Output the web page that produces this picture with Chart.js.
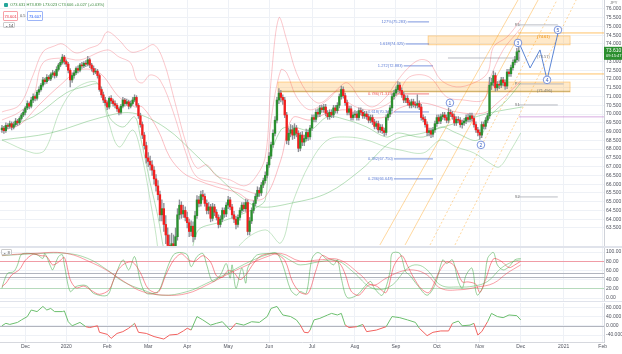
<!DOCTYPE html>
<html>
<head>
<meta charset="utf-8">
<script src="https://cdn.jsdelivr.net/npm/chart.js@4.4.1/dist/chart.umd.min.js"></script>
<style>
  body { margin: 0; width: 622px; height: 354px; overflow: hidden; background: #fff; position: relative; font-family: "Liberation Sans", Arial, sans-serif; }
  canvas { position: absolute; left: 0; }
  .sep { position: absolute; left: 0; width: 622px; background: #e0e3eb; }
  .t { position: absolute; white-space: nowrap; line-height: 1; }
  .box { position: absolute; border: 0.6px solid; border-radius: 1px; font-size: 4px; line-height: 9px; text-align: center; box-sizing: border-box; }
</style>
</head>
<body>
<canvas id="main" width="622" height="246" style="top:0"></canvas>
<div class="sep" style="top:246px;height:2px"></div>
<canvas id="stoch" width="622" height="53" style="top:248px"></canvas>
<div class="sep" style="top:301px;height:1px"></div>
<canvas id="osc" width="622" height="52" style="top:302px"></canvas>

<div class="t" style="left:4px;top:3px;width:4px;height:4px;background:#26a69a;border-radius:1px"></div>
<div class="t" style="left:10px;top:3px;font-size:4px;color:#3d8b40">O73.631 H73.839 L73.023 C73.606 +0.027 (+0.03%)</div>
<div class="box" style="left:3px;top:11px;width:15px;height:10px;color:#f23645;border-color:#f7a1a8">73.601</div>
<div class="t" style="left:20px;top:14px;font-size:4px;color:#555">0.5</div>
<div class="box" style="left:27px;top:11px;width:16px;height:10px;color:#2962ff;border-color:#9db5f7">73.607</div>
<div class="box" style="left:3px;top:22px;width:12px;height:6px;line-height:6px;color:#333;border-color:#ccc">⌄ 14</div>
<div class="box" style="left:1px;top:249px;width:11px;height:6px;line-height:6px;color:#333;border-color:#ccc">⌄ 3</div>

<script>
// ---- price data (daily candles, NZD/JPY style) ----
const firstOpen = 69.10;
const closes = [
  69.20, 69.05, 69.35, 69.30, 69.45, 69.25, 69.40, 69.60, 69.50, 69.75,
  69.95, 70.10, 70.35, 70.60, 70.45, 70.80, 71.00, 70.90, 71.25, 71.40,
  71.65, 71.95, 71.85, 72.10, 72.00, 72.25, 72.35, 72.20, 72.55, 72.80,
  72.95, 73.25, 73.00, 72.85, 72.50, 71.95, 72.20, 72.35, 72.60, 72.50,
  72.80, 72.75, 72.90, 72.85, 73.10, 72.80, 72.60, 72.40, 72.45, 72.20,
  71.40, 71.10, 70.80, 70.65, 70.40, 70.90, 70.75, 70.60, 70.50, 70.30,
  70.10, 70.45, 70.80, 70.60, 70.70, 70.45, 70.60, 70.80, 70.95, 70.50,
  69.90, 69.40, 68.80, 68.20, 67.50, 67.30, 67.10, 66.80, 66.30, 65.90,
  65.40, 64.25, 64.60, 63.70, 63.10, 62.50, 61.95, 62.60, 61.60, 63.00,
  64.25, 64.80, 64.30, 64.50, 64.10, 63.80, 63.30, 63.60, 63.00, 64.20,
  65.10, 64.90, 65.40, 65.30, 64.90, 64.50, 64.70, 64.05, 64.70, 64.40,
  64.10, 63.70, 64.00, 64.50, 64.30, 64.80, 65.10, 64.70, 64.25, 64.00,
  63.70, 64.10, 64.50, 64.80, 64.60, 64.95, 63.30, 63.90, 64.50, 64.90,
  65.30, 65.65, 65.50, 65.95, 66.20, 66.50, 67.10, 67.60, 68.25, 68.90,
  69.65, 70.80, 71.20, 70.95, 70.80, 69.95, 68.50, 68.90, 69.10, 68.80,
  69.20, 68.90, 68.05, 68.80, 68.40, 68.60, 68.95, 68.70, 69.20, 69.80,
  69.70, 70.10, 70.00, 70.35, 70.25, 70.40, 70.05, 69.85, 70.10, 69.95,
  70.35, 70.20, 70.50, 71.00, 71.40, 71.05, 70.65, 70.10, 70.30, 69.80,
  69.95, 70.00, 69.80, 70.20, 70.10, 69.90, 70.00, 69.85, 69.65, 69.80,
  69.55, 69.30, 69.45, 69.10, 69.25, 69.05, 68.95, 69.80, 70.00, 70.35,
  71.00, 71.20, 71.40, 71.65, 71.35, 71.10, 70.80, 70.90, 70.65, 70.50,
  70.70, 70.55, 70.50, 70.60, 70.40, 69.80, 69.70, 69.40, 68.95, 69.05,
  68.85, 69.10, 69.45, 69.80, 69.60, 69.85, 69.95, 69.80, 69.65, 70.10,
  70.00, 69.85, 69.50, 69.70, 69.65, 69.40, 69.50, 69.60, 69.80, 69.70,
  69.90, 69.75, 69.40, 69.10, 68.95, 68.80, 69.40, 69.30, 69.65, 69.90,
  71.65, 71.80, 72.20, 71.50, 71.70, 71.65, 71.95, 71.80, 71.60, 72.40,
  72.30, 72.65, 72.95, 73.10, 73.55, 73.61
];
const highs = [
  69.35, 69.30, 69.50, 69.45, 69.60, 69.55, 69.55, 69.75, 69.70, 69.85,
  70.05, 70.25, 70.45, 70.75, 70.70, 70.95, 71.15, 71.10, 71.35, 71.55,
  71.75, 72.10, 72.05, 72.25, 72.20, 72.35, 72.50, 72.45, 72.70, 72.90,
  73.10, 73.40, 73.35, 73.10, 72.95, 72.60, 72.35, 72.50, 72.70, 72.75,
  72.90, 72.95, 73.00, 73.05, 73.30, 73.20, 72.90, 72.75, 72.60, 72.55,
  72.30, 71.55, 71.25, 70.95, 70.75, 71.00, 71.05, 70.85, 70.75, 70.60,
  70.40, 70.55, 70.95, 70.90, 70.85, 70.80, 70.75, 70.95, 71.10, 71.05,
  70.60, 70.05, 69.55, 68.95, 68.40, 67.80, 67.60, 67.35, 67.00, 66.55,
  66.20, 65.60, 65.10, 64.90, 64.20, 63.50, 63.10, 63.20, 63.10, 63.50,
  64.60, 65.10, 65.00, 64.80, 64.70, 64.40, 64.00, 63.90, 63.85, 64.45,
  65.35, 65.30, 65.60, 65.65, 65.45, 65.10, 64.95, 64.85, 64.90, 64.85,
  64.55, 64.25, 64.20, 64.65, 64.65, 64.95, 65.30, 65.25, 64.85, 64.45,
  64.15, 64.25, 64.65, 64.95, 64.95, 65.15, 65.10, 64.10, 64.65, 65.05,
  65.45, 65.85, 65.80, 66.10, 66.35, 66.70, 67.25, 67.80, 68.40, 69.10,
  69.85, 70.95, 71.45, 71.35, 71.10, 70.95, 70.10, 69.20, 69.40, 69.35,
  69.45, 69.35, 69.05, 68.95, 69.00, 68.80, 69.15, 69.10, 69.35, 69.95,
  69.95, 70.25, 70.30, 70.50, 70.50, 70.55, 70.55, 70.20, 70.25, 70.25,
  70.50, 70.50, 70.65, 71.15, 71.60, 71.55, 71.20, 70.80, 70.45, 70.45,
  70.10, 70.20, 70.15, 70.35, 70.35, 70.25, 70.15, 70.15, 70.00, 69.95,
  69.95, 69.70, 69.60, 69.60, 69.40, 69.40, 69.20, 69.95, 70.15, 70.50,
  71.15, 71.35, 71.55, 71.85, 71.80, 71.50, 71.25, 71.05, 71.05, 70.80,
  70.85, 70.85, 70.70, 71.10, 70.75, 70.55, 69.95, 69.85, 69.55, 69.20,
  69.20, 69.25, 69.60, 69.95, 69.95, 70.00, 70.10, 70.10, 69.95, 70.35,
  70.25, 70.15, 70.00, 69.85, 69.85, 69.80, 69.65, 69.75, 69.95, 70.00,
  70.05, 70.05, 69.90, 69.55, 69.25, 69.10, 69.55, 69.55, 69.80, 70.05,
  72.10, 72.05, 72.45, 72.35, 71.85, 71.90, 72.10, 72.10, 71.95, 72.55,
  72.55, 72.80, 73.10, 73.30, 73.75, 73.84
];
const lows = [
  68.95, 68.90, 68.95, 69.15, 69.20, 69.10, 69.15, 69.30, 69.35, 69.40,
  69.65, 69.85, 69.95, 70.25, 70.30, 70.35, 70.65, 70.75, 70.80, 71.10,
  71.30, 71.55, 71.70, 71.75, 71.90, 71.90, 72.10, 72.05, 72.10, 72.45,
  72.70, 72.85, 72.85, 72.70, 72.35, 71.55, 71.80, 72.05, 72.25, 72.35,
  72.40, 72.60, 72.65, 72.70, 72.75, 72.65, 72.45, 72.25, 72.30, 72.05,
  71.30, 70.95, 70.65, 70.50, 70.25, 70.30, 70.60, 70.45, 70.35, 70.15,
  69.95, 70.00, 70.35, 70.45, 70.50, 70.30, 70.35, 70.50, 70.70, 70.40,
  69.75, 69.25, 68.60, 68.00, 67.20, 67.00, 66.80, 66.50, 66.00, 65.60,
  65.10, 63.90, 63.90, 63.30, 62.60, 61.80, 60.80, 61.40, 60.50, 61.20,
  62.80, 64.00, 64.05, 64.10, 63.90, 63.50, 63.00, 63.05, 62.70, 62.85,
  64.05, 64.70, 64.75, 65.10, 64.75, 64.30, 64.30, 63.85, 63.90, 64.20,
  63.95, 63.50, 63.55, 63.85, 64.10, 64.15, 64.60, 64.55, 64.05, 63.80,
  63.45, 63.55, 63.95, 64.35, 64.45, 64.45, 63.10, 63.10, 63.75, 64.35,
  64.75, 65.15, 65.30, 65.35, 65.80, 66.05, 66.35, 66.95, 67.45, 68.10,
  68.75, 69.50, 70.60, 70.70, 70.55, 69.80, 68.30, 68.25, 68.70, 68.55,
  68.60, 68.70, 67.85, 67.90, 68.20, 68.20, 68.45, 68.50, 68.55, 69.05,
  69.55, 69.55, 69.85, 69.85, 70.10, 70.10, 69.90, 69.70, 69.70, 69.80,
  69.80, 70.05, 70.05, 70.35, 70.85, 70.90, 70.50, 69.95, 69.95, 69.65,
  69.65, 69.80, 69.65, 69.65, 69.95, 69.75, 69.75, 69.70, 69.50, 69.50,
  69.40, 69.15, 69.15, 68.95, 68.95, 68.90, 68.75, 68.80, 69.65, 69.85,
  70.20, 70.85, 71.05, 71.25, 71.20, 70.95, 70.65, 70.65, 70.50, 70.35,
  70.35, 70.40, 70.35, 70.35, 70.25, 69.65, 69.55, 69.25, 68.75, 68.75,
  68.65, 68.70, 68.95, 69.30, 69.45, 69.45, 69.70, 69.65, 69.50, 69.50,
  69.85, 69.70, 69.35, 69.35, 69.50, 69.25, 69.20, 69.35, 69.45, 69.55,
  69.55, 69.60, 69.25, 68.95, 68.75, 68.55, 68.65, 69.15, 69.15, 69.50,
  69.75, 71.40, 71.60, 71.30, 71.35, 71.45, 71.50, 71.60, 71.40, 71.45,
  72.15, 72.15, 72.50, 72.80, 72.95, 73.02
];

// band overlays: [bar, price]
const upperOuter = [[0,70.12],[9,70.52],[16,72.23],[21,73.55],[27,73.89],[31,74.00],[38,73.49],[45,73.77],[50,74.00],[54,74.69],[60,74.23],[66,73.55],[72,73.66],[78,73.95],[83,72.98],[88,70.98],[95,68.12],[100,66.92],[105,67.10],[110,66.47],[117,66.24],[124,65.90],[129,66.24],[135,67.55],[138,71.95],[142,75.49],[146,74.23],[151,72.35],[158,70.98],[163,70.63],[170,71.21],[177,71.78],[184,70.81],[190,70.41],[197,70.98],[202,71.78],[208,72.60],[214,73.09],[219,72.98],[225,71.95],[233,71.55],[242,71.78],[249,72.35],[252,73.83],[259,74.40],[266,75.37]];
const upperInner = [[0,69.66],[9,70.12],[16,70.98],[21,72.92],[31,73.20],[40,73.09],[54,73.66],[60,73.26],[66,72.92],[69,71.95],[72,71.78],[76,72.23],[81,71.95],[88,70.06],[95,67.55],[100,66.41],[110,66.07],[117,65.84],[124,65.67],[131,65.50],[135,66.24],[138,69.66],[143,72.52],[146,72.35],[151,70.98],[158,70.24],[167,70.81],[173,71.38],[178,70.63],[187,70.24],[195,70.41],[202,70.98],[209,72.12],[219,72.12],[228,70.98],[236,70.81],[247,70.81],[250,71.95],[257,73.66],[264,74.63],[266,74.90]];
const basis = [[0,69.09],[9,69.38],[19,70.52],[30,71.66],[40,72.52],[50,72.35],[60,70.98],[68,70.41],[72,70.41],[80,69.09],[86,67.55],[93,66.64],[100,66.24],[110,65.84],[121,65.50],[127,65.10],[135,65.27],[143,67.38],[149,69.78],[158,69.66],[167,70.06],[177,70.24],[187,69.84],[197,69.84],[204,70.35],[216,70.63],[233,70.12],[247,70.06],[254,70.63],[264,71.66],[266,71.90]];
const lowerInner = [[0,69.26],[16,69.84],[33,71.21],[42,71.55],[50,71.66],[55,69.84],[62,69.26],[68,69.84],[71,68.69],[76,66.07],[80,64.13],[83,62.24],[88,59.50],[95,59.80],[100,63.27],[112,63.84],[122,64.24],[131,64.70],[135,65.10],[137,67.21],[143,69.09],[149,69.26],[158,69.09],[167,69.84],[177,69.66],[187,69.26],[197,68.69],[203,68.92],[216,68.69],[225,69.26],[233,68.92],[244,68.52],[250,69.84],[259,70.81],[266,71.78]];
const lowerOuter = [[0,68.52],[16,67.78],[22,67.95],[30,70.24],[38,71.49],[49,71.78],[54,69.84],[60,68.12],[67,69.09],[71,67.95],[76,65.10],[80,62.24],[84,57.00],[101,59.00],[122,62.53],[135,63.39],[143,62.64],[149,64.93],[158,67.21],[167,68.52],[177,68.69],[187,68.52],[197,68.12],[204,67.95],[216,67.78],[225,68.52],[233,68.12],[242,67.78],[250,67.21],[255,66.98],[261,67.95],[266,68.92]];
const slowMa = [[0,68.52],[25,68.92],[50,69.78],[67,70.06],[84,69.20],[100,67.60],[112,66.30],[122,65.30],[132,64.70],[149,64.93],[167,65.50],[184,66.81],[201,68.52],[216,68.92],[233,69.49],[250,70.06],[267,70.41]];

// stochastic pane: [bar, value]
const fastK = [[0,21],[1,36],[3,54],[6,57],[8,72],[10,95],[14,97],[18,94],[21,86],[22,97],[25,68],[26,61],[29,90],[31,94],[32,72],[35,14],[38,25],[42,28],[44,25],[47,10],[54,6],[57,36],[62,83],[65,61],[68,90],[71,36],[74,10],[80,14],[83,43],[85,68],[88,94],[91,99],[95,94],[97,68],[100,90],[103,97],[105,72],[108,36],[112,50],[115,75],[117,43],[118,72],[120,21],[123,65],[125,32],[126,65],[129,86],[131,94],[137,97],[141,97],[144,72],[148,18],[151,6],[153,14],[156,10],[159,86],[162,99],[166,86],[170,72],[172,83],[174,43],[177,1],[182,6],[186,25],[189,36],[191,21],[195,6],[199,57],[200,97],[204,97],[207,57],[209,50],[213,28],[218,6],[222,28],[226,83],[228,75],[231,83],[234,36],[236,21],[238,50],[241,65],[243,14],[244,6],[247,28],[249,86],[252,99],[254,72],[257,61],[260,68],[263,83],[266,86]];
const fastD = [[0,25],[2,32],[5,50],[9,62],[12,82],[16,95],[20,92],[23,90],[26,72],[29,78],[32,88],[35,40],[38,22],[42,26],[46,16],[50,8],[55,18],[59,58],[63,75],[67,78],[71,55],[75,20],[80,12],[84,50],[88,82],[92,96],[96,82],[99,80],[103,92],[107,78],[110,48],[113,45],[116,60],[119,55],[122,40],[125,50],[129,75],[133,92],[140,96],[145,82],[149,35],[153,12],[157,10],[161,60],[164,92],[168,85],[173,76],[176,52],[179,15],[183,6],[188,28],[192,26],[197,12],[201,70],[205,92],[208,70],[211,45],[215,20],[219,12],[224,55],[228,78],[232,70],[236,35],[239,35],[243,30],[245,12],[248,40],[252,85],[256,80],[260,66],[263,72],[266,80]];
const slowRed = [[0,93],[16,97],[33,97],[47,75],[55,57],[64,32],[72,14],[84,6],[95,10],[105,28],[115,50],[126,72],[136,90],[143,97],[153,80],[163,83],[173,83],[184,50],[190,28],[197,43],[204,57],[211,61],[218,50],[225,21],[235,18],[244,24],[252,32],[259,54],[266,72]];
const slowGreen = [[0,92],[16,96],[33,97],[44,86],[54,61],[62,36],[72,18],[82,6],[95,14],[105,32],[117,57],[127,79],[136,94],[141,97],[149,79],[153,72],[163,79],[172,81],[180,57],[190,21],[199,25],[208,65],[213,72],[218,61],[225,28],[234,24],[242,26],[249,36],[256,65],[262,79],[266,83]];
const stochLevels = [[80, 'rgba(242,54,69,0.45)'], [54, '#b2b5be'], [46, '#b2b5be'], [22, 'rgba(76,175,80,0.35)']];

// lower oscillator: [bar, value]
const osc = [[0,1],[2,12],[4,7],[8,16],[10,27],[13,42],[15,71],[18,64],[21,87],[23,71],[25,78],[27,64],[31,64],[32,67],[34,19],[36,1],[40,16],[43,-3],[45,-7],[49,1],[50,-28],[54,-37],[56,-55],[59,-33],[62,-25],[65,-10],[67,4],[68,12],[70,-28],[74,-33],[78,-47],[83,-58],[86,-40],[90,-37],[93,-22],[95,-10],[97,-18],[100,42],[103,27],[107,4],[110,12],[113,19],[117,-18],[120,12],[124,4],[128,19],[132,16],[136,42],[138,78],[141,87],[144,49],[148,42],[151,27],[153,4],[155,-28],[157,-30],[158,-18],[160,27],[163,34],[167,49],[169,56],[172,49],[174,56],[176,4],[178,-7],[182,-3],[185,7],[187,-25],[192,-18],[197,-3],[200,42],[204,37],[208,27],[212,16],[214,-10],[218,-43],[221,-28],[225,-22],[229,-22],[231,12],[234,22],[236,1],[240,4],[242,12],[244,-40],[246,-25],[249,19],[251,56],[254,42],[257,37],[260,49],[264,46],[266,27]];

// axes
const monthTicks = [12, 33, 54, 75, 95, 116, 137, 159, 181, 202, 223, 245, 266, 288, 308];
const monthLabels = ['Dec', '2020', 'Feb', 'Mar', 'Apr', 'May', 'Jun', 'Jul', 'Aug', 'Sep', 'Oct', 'Nov', 'Dec', '2021', 'Feb'];
const priceTicks = [76, 75.5, 75, 74.5, 74, 73.5, 73, 72.5, 72, 71.5, 71, 70.5, 70, 69.5, 69, 68.5, 68, 67.5, 67, 66.5, 66, 65.5, 65, 64.5, 64, 63.5];
const stochTicks = [100, 80, 60, 40, 20, 0];
const oscTicks = [80, 40, 0, -40];

// chart drawings: zones [fromBar, toBar, top, bottom]
const zones = [[218.5, 291.3, 74.46, 73.95], [141.5, 291.3, 71.83, 71.26]];
// horizontal lines [fromBar, toBar, price, color]
const hLines = [
  [264.6, 310, 74.63, 'rgba(255,152,0,0.75)'],
  [264.6, 310, 72.29, 'rgba(255,152,0,0.75)'],
  [141.5, 291.3, 71.30, 'rgba(150,130,40,0.7)'],
  [228.7, 265.6, 73.20, '#a8acb5'],
  [264.5, 285, 75.09, '#a8acb5'],
  [264.5, 288, 71.72, '#a8acb5'],
  [264.5, 285, 70.52, '#a8acb5'],
  [264.5, 285, 65.27, '#a8acb5'],
  [265, 310, 69.84, 'rgba(186,104,200,0.7)']
];
// fib levels [price, label, fromBar, toBar, color]
const fibs = [
  [75.26, '127%(75.283)', 208, 219, '#5b7bd5'],
  [74.00, '1.618(74.325)', 207, 219, '#5b7bd5'],
  [72.75, '1.272(72.883)', 206, 221, '#5b7bd5'],
  [71.15, '0.786(71.313)', 201, 219, '#f05a5a'],
  [70.12, '0.618(70.318)', 201, 219, '#5b7bd5'],
  [67.44, '0.382(67.750)', 201, 221, '#5b7bd5'],
  [66.30, '0.236(66.648)', 201, 221, '#5b7bd5']
];
// diagonal channel lines [[bar, price], [bar, price], dashed]
const diagonals = [
  [[193.8, 62.53], [264.6, 76.51], false],
  [[206.7, 62.53], [274.9, 76.51], false],
  [[219.5, 62.53], [284.6, 76.51], true],
  [[232.3, 62.53], [294.4, 76.51], true]
];
const wavePath = [[265.6, 73.95], [270.8, 72.63], [275.9, 73.66], [279.5, 71.95], [285.1, 74.63]];
const waveMarks = [['1', 229.7, 70.64], ['2', 245.6, 68.24], ['3', 264.6, 74.06], ['4', 279.5, 71.95], ['5', 285.1, 74.80]];
const notes = [
  ['R1', 263, 75.09, '#777'], ['P', 263, 71.72, '#777'], ['S1', 263, 70.52, '#777'], ['S2', 263, 65.27, '#777'],
  ['(74.61)', 274.4, 74.40, '#f08c00'], ['(73.57)', 274.4, 73.26, '#777'], ['(71.496)', 274.4, 71.32, '#777']
];

const xMin = -1, xMax = 308.7;
const gridColor = '#eef1f6';
const font = 'Liberation Sans, Arial, sans-serif';

// ---- build ----
const opens = closes.map((c, i) => i === 0 ? firstOpen : closes[i - 1]);
const candleColor = closes.map((c, i) => c >= opens[i] ? '#2b8f2f' : '#f21f1f');
const pts = a => a.map(([x, y]) => ({ x, y }));

function lineSet(data, color, width, tension) {
  return { type: 'line', data: pts(data), borderColor: color, borderWidth: width, pointRadius: 0, tension: tension, order: 2, fill: false };
}

function xAxis(showLabels) {
  return {
    type: 'linear', min: xMin, max: xMax, offset: false,
    afterBuildTicks: s => { s.ticks = monthTicks.map(v => ({ value: v })); },
    afterFit: s => { s.height = showLabels ? 12 : 0; s.paddingLeft = 0; s.paddingRight = 0; },
    ticks: { display: showLabels, autoSkip: false, maxRotation: 0, padding: 2, color: '#50535e', font: { size: 5, family: font }, callback: (v, i) => monthLabels[i] },
    grid: { color: gridColor, drawTicks: false, offset: false },
    border: { display: showLabels, color: '#d6d8de' }
  };
}

function yAxis(min, max, tickVals, digits) {
  return {
    position: 'right', min, max,
    afterBuildTicks: s => { s.ticks = tickVals.map(v => ({ value: v })); },
    afterFit: s => { s.width = 18; s.paddingTop = 0; s.paddingBottom = 0; },
    ticks: { autoSkip: false, padding: 2, color: '#50535e', font: { size: 5, family: font }, callback: v => v.toFixed(digits) },
    grid: { color: gridColor, drawTicks: false },
    border: { display: true, color: '#cfd2d9' }
  };
}

function levelLines(levels) {
  return {
    id: 'levels',
    beforeDatasetsDraw(chart) {
      const { ctx, chartArea: a, scales: { y } } = chart;
      ctx.save();
      levels.forEach(([v, c]) => {
        const py = Math.round(y.getPixelForValue(v)) + 0.5;
        ctx.strokeStyle = c; ctx.lineWidth = 1;
        ctx.beginPath(); ctx.moveTo(a.left, py); ctx.lineTo(a.right, py); ctx.stroke();
      });
      ctx.restore();
    }
  };
}

const drawings = {
  id: 'drawings',
  beforeDatasetsDraw(chart) {
    const { ctx, chartArea: a, scales: { x, y } } = chart;
    ctx.save();
    ctx.beginPath(); ctx.rect(a.left, a.top, a.width, a.height); ctx.clip();
    zones.forEach(([i0, i1, p0, p1]) => {
      const X0 = x.getPixelForValue(i0), X1 = x.getPixelForValue(i1);
      const Y0 = y.getPixelForValue(p0), Y1 = y.getPixelForValue(p1);
      ctx.fillStyle = 'rgba(255,183,77,0.3)';
      ctx.fillRect(X0, Y0, X1 - X0, Y1 - Y0);
      ctx.strokeStyle = 'rgba(255,152,0,0.5)'; ctx.lineWidth = 0.7;
      ctx.strokeRect(X0, Y0, X1 - X0, Y1 - Y0);
    });
    diagonals.forEach(([p, q, dashed]) => {
      ctx.strokeStyle = 'rgba(255,152,0,0.55)'; ctx.lineWidth = 0.7;
      ctx.setLineDash(dashed ? [2, 2] : []);
      ctx.beginPath();
      ctx.moveTo(x.getPixelForValue(p[0]), y.getPixelForValue(p[1]));
      ctx.lineTo(x.getPixelForValue(q[0]), y.getPixelForValue(q[1]));
      ctx.stroke();
    });
    ctx.setLineDash([]);
    hLines.forEach(([i0, i1, p, c]) => {
      const py = y.getPixelForValue(p);
      ctx.strokeStyle = c; ctx.lineWidth = 0.8;
      ctx.beginPath(); ctx.moveTo(x.getPixelForValue(i0), py); ctx.lineTo(x.getPixelForValue(i1), py); ctx.stroke();
    });
    ctx.font = '4px ' + font;
    ctx.textBaseline = 'middle';
    fibs.forEach(([p, label, i0, i1, c]) => {
      const py = y.getPixelForValue(p);
      ctx.strokeStyle = c; ctx.lineWidth = 0.8;
      ctx.beginPath(); ctx.moveTo(x.getPixelForValue(i0), py); ctx.lineTo(x.getPixelForValue(i1), py); ctx.stroke();
      ctx.fillStyle = c; ctx.textAlign = 'right';
      ctx.fillText(label, x.getPixelForValue(i0) - 1, py);
    });
    ctx.restore();
  },
  afterDatasetsDraw(chart) {
    const { ctx, chartArea: a, scales: { x, y } } = chart;
    ctx.save();
    ctx.beginPath(); ctx.rect(a.left, a.top, a.width, a.height); ctx.clip();
    ctx.strokeStyle = '#4a78d0'; ctx.lineWidth = 0.9;
    ctx.beginPath();
    wavePath.forEach(([i, p], k) => {
      const px = x.getPixelForValue(i), py = y.getPixelForValue(p);
      if (k === 0) ctx.moveTo(px, py); else ctx.lineTo(px, py);
    });
    ctx.stroke();
    ctx.textAlign = 'center'; ctx.textBaseline = 'middle';
    waveMarks.forEach(([t, i, p]) => {
      const px = x.getPixelForValue(i), py = y.getPixelForValue(p);
      ctx.beginPath(); ctx.arc(px, py, 3.8, 0, Math.PI * 2);
      ctx.fillStyle = '#fff'; ctx.fill();
      ctx.strokeStyle = '#5b7bd5'; ctx.lineWidth = 0.8; ctx.stroke();
      ctx.fillStyle = '#3f63c4'; ctx.font = '5px ' + font;
      ctx.fillText(t, px, py + 0.3);
    });
    ctx.font = '4px ' + font; ctx.textAlign = 'left';
    notes.forEach(([t, i, p, c]) => {
      ctx.fillStyle = c;
      ctx.fillText(t, x.getPixelForValue(i), y.getPixelForValue(p));
    });
    ctx.restore();
  },
  afterDraw(chart) {
    const { ctx, chartArea: a, scales: { y } } = chart;
    const last = closes[closes.length - 1];
    const py = y.getPixelForValue(last);
    ctx.save();
    ctx.fillStyle = '#2b8f2f';
    ctx.fillRect(a.right, py - 4, 18, 13);
    ctx.fillStyle = '#fff'; ctx.font = '5px ' + font;
    ctx.textAlign = 'left'; ctx.textBaseline = 'middle';
    ctx.fillText(last.toFixed(3), a.right + 2, py);
    ctx.font = '4px ' + font;
    ctx.fillText('09:15:47', a.right + 2, py + 5.5);
    ctx.fillStyle = '#777'; ctx.font = '4px ' + font;
    ctx.fillText('JPY', a.right + 6, 3);
    ctx.restore();
  }
};

const common = {
  responsive: false, animation: false, devicePixelRatio: 1, events: [],
  plugins: { legend: { display: false }, tooltip: { enabled: false } }
};

new Chart(document.getElementById('main'), {
  type: 'bar',
  data: {
    datasets: [
      { data: closes.map((c, i) => ({ x: i, y: [opens[i], c] })), backgroundColor: candleColor, barThickness: 1.7, grouped: false, order: 0 },
      { data: closes.map((c, i) => ({ x: i, y: [lows[i], highs[i]] })), backgroundColor: '#8d8f96', barThickness: 0.7, grouped: false, order: 1 },
      lineSet(upperOuter, 'rgba(242,54,69,0.35)', 0.8, 0.35),
      lineSet(upperInner, 'rgba(242,54,69,0.35)', 0.8, 0.35),
      lineSet(basis, 'rgba(242,54,69,0.4)', 0.8, 0.35),
      lineSet(lowerInner, 'rgba(76,175,80,0.5)', 0.8, 0.35),
      lineSet(lowerOuter, 'rgba(76,175,80,0.4)', 0.8, 0.35),
      lineSet(slowMa, 'rgba(76,175,80,0.5)', 0.8, 0.35)
    ]
  },
  options: {
    ...common,
    layout: { padding: 0 },
    scales: { x: xAxis(false), y: yAxis(62.47, 76.51, priceTicks, 3) }
  },
  plugins: [drawings]
});

new Chart(document.getElementById('stoch'), {
  type: 'line',
  data: {
    datasets: [
      lineSet(slowRed, 'rgba(242,54,69,0.6)', 0.8, 0.4),
      lineSet(slowGreen, 'rgba(76,175,80,0.6)', 0.8, 0.4),
      lineSet(fastD, 'rgba(242,54,69,0.7)', 0.8, 0.3),
      lineSet(fastK, 'rgba(76,175,80,0.7)', 0.8, 0.3)
    ]
  },
  options: {
    ...common,
    layout: { padding: 0 },
    scales: { x: xAxis(false), y: yAxis(-6.5, 108.7, stochTicks, 2) }
  },
  plugins: [levelLines(stochLevels)]
});

new Chart(document.getElementById('osc'), {
  type: 'line',
  data: {
    datasets: [{
      data: pts(osc), borderWidth: 1, pointRadius: 0, tension: 0, borderColor: '#6cbf6e',
      segment: { borderColor: c => (c.p0.parsed.y + c.p1.parsed.y) / 2 >= 0 ? '#6cbf6e' : '#f2625f' }
    }]
  },
  options: {
    ...common,
    layout: { padding: { top: 1 } },
    scales: { x: xAxis(true), y: yAxis(-71.1, 102.2, oscTicks, 3) }
  },
  plugins: [levelLines([[0, '#b2b5be']])]
});
</script>
</body>
</html>
